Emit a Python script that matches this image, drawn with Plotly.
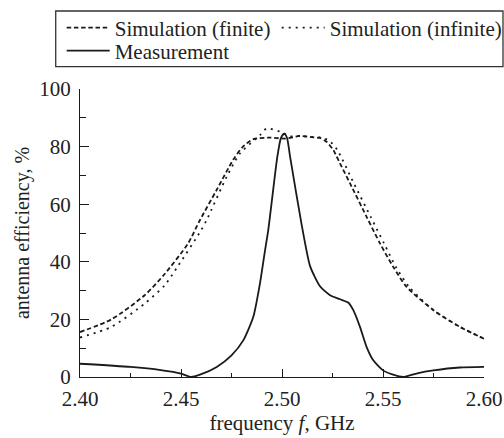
import plotly.graph_objects as go

# ---- data ----
freq_finite = [2.400, 2.4155, 2.432, 2.4416, 2.4535, 2.4594, 2.4677, 2.4759, 2.4807, 2.4858,
               2.494, 2.5015, 2.509, 2.5155, 2.5188, 2.522, 2.5254, 2.5287, 2.5337, 2.5419, 2.5485,
               2.5551, 2.5617, 2.575, 2.5881, 2.600]
eff_finite = [15.6, 20.0, 28.4, 35.5, 46.4, 54.5, 65.0, 75.5, 80.0, 82.6,
              83.1, 82.8, 83.7, 83.2, 83.0, 81.7, 78.8, 74.2, 67.2, 55.6, 46.4,
              38.2, 31.3, 23.2, 17.4, 13.3]

freq_infinite = [2.400, 2.4155, 2.432, 2.442, 2.448, 2.460, 2.4627, 2.4726, 2.4792, 2.4891, 2.4924,
                 2.499, 2.504, 2.509, 2.5155, 2.5188, 2.5235, 2.5274, 2.5356, 2.5439, 2.5505,
                 2.5564, 2.5629, 2.575, 2.5881, 2.600]
eff_infinite = [13.7, 17.4, 25.5, 31.9, 38.0, 51.0, 54.5, 69.5, 77.6, 84.0, 86.3,
                85.2, 83.6, 83.7, 83.3, 83.2, 82.0, 78.8, 67.2, 55.6, 46.4,
                38.2, 31.3, 23.2, 17.4, 13.3]

freq_meas = [2.400, 2.425, 2.440, 2.450, 2.455, 2.4594, 2.4677, 2.475, 2.4809, 2.4858, 2.4891, 2.4916,
             2.4932, 2.4977, 2.4995, 2.5011, 2.5025, 2.504, 2.5097, 2.5139, 2.5188, 2.5238, 2.5287,
             2.5329, 2.5353, 2.5386, 2.5419, 2.5452, 2.550, 2.555, 2.560, 2.567, 2.575, 2.588, 2.600]
eff_meas = [4.6, 3.5, 2.4, 1.2, 0.0, 0.8, 3.5, 7.5, 12.8, 20.9, 32.5, 44.0,
            51.0, 76.5, 83.0, 84.5, 83.0, 76.5, 53.0, 38.5, 31.5, 28.4, 27.0,
            25.8, 23.2, 17.4, 10.4, 5.8, 2.3, 0.8, 0.0, 1.3, 2.3, 3.3, 3.5]

x_ticks = [2.40, 2.45, 2.50, 2.55, 2.60]
y_ticks = [0, 20, 40, 60, 80, 100]

FONT = "Liberation Serif"
INK = "#1a1a1a"
TXT = "#222"

fig = go.Figure()
fig.add_trace(go.Scatter(x=freq_finite, y=eff_finite, mode="lines", name="Simulation (finite)",
                         legend="legend", legendwidth=157,
                         line=dict(color=INK, width=1.8, dash="4.5px,2.7px", shape="spline", smoothing=0.7)))
fig.add_trace(go.Scatter(x=freq_infinite, y=eff_infinite, mode="lines", name="Simulation (infinite)",
                         legend="legend", legendwidth=185,
                         line=dict(color=INK, width=1.8, dash="2px,5px", shape="spline", smoothing=0.7)))
fig.add_trace(go.Scatter(x=freq_meas, y=eff_meas, mode="lines", name="Measurement",
                         legend="legend2",
                         line=dict(color=INK, width=1.8, shape="spline", smoothing=0.6)))

legend_common = dict(orientation="h", xanchor="left", yanchor="top", borderwidth=0, itemwidth=43,
                     font=dict(family=FONT, size=21, color=TXT), bgcolor="rgba(0,0,0,0)")

fig.update_layout(
    width=504, height=438,
    margin=dict(l=80, r=20, t=89, b=61, autoexpand=False),
    paper_bgcolor="white", plot_bgcolor="white",
    font=dict(family=FONT, size=21, color=TXT),
    legend=dict(x=-0.0453, y=1.2833, **legend_common),
    legend2=dict(x=-0.0453, y=1.2035, **legend_common),
    shapes=[dict(type="rect", xref="paper", yref="paper", x0=-0.0601, x1=1.047, y0=1.0774, y1=1.2708,
                 line=dict(color="#333", width=1.3), fillcolor="rgba(0,0,0,0)", layer="below")],
    xaxis=dict(range=[2.40, 2.60], tickvals=x_ticks, ticktext=[f"{v:.2f}" for v in x_ticks],
               tickfont=dict(family=FONT, size=21, color=TXT),
               ticks="inside", ticklen=8, tickwidth=1.2, tickcolor=INK, ticklabelstandoff=3,
               ticklabeloverflow="allow",
               minor=dict(dtick=0.025, tick0=2.40, ticks="inside", ticklen=4, tickwidth=1.2, tickcolor=INK),
               showline=True, linecolor=INK, linewidth=1.3, showgrid=False, zeroline=False,
               automargin=False,
               title=dict(text="frequency <i>f</i>, GHz", standoff=0,
                          font=dict(family=FONT, size=21, color=TXT))),
    yaxis=dict(range=[0, 100], tickvals=y_ticks,
               tickfont=dict(family=FONT, size=21, color=TXT),
               ticks="inside", ticklen=9, tickwidth=1.2, tickcolor=INK, ticklabelstandoff=4,
               minor=dict(dtick=10, tick0=0, ticks="inside", ticklen=6, tickwidth=1.2, tickcolor=INK),
               showline=True, linecolor=INK, linewidth=1.3, showgrid=False, zeroline=False,
               automargin=False,
               title=dict(text="antenna efficiency, %", standoff=4,
                          font=dict(family=FONT, size=20, color=TXT))),
)

fig.write_html("out.html")
